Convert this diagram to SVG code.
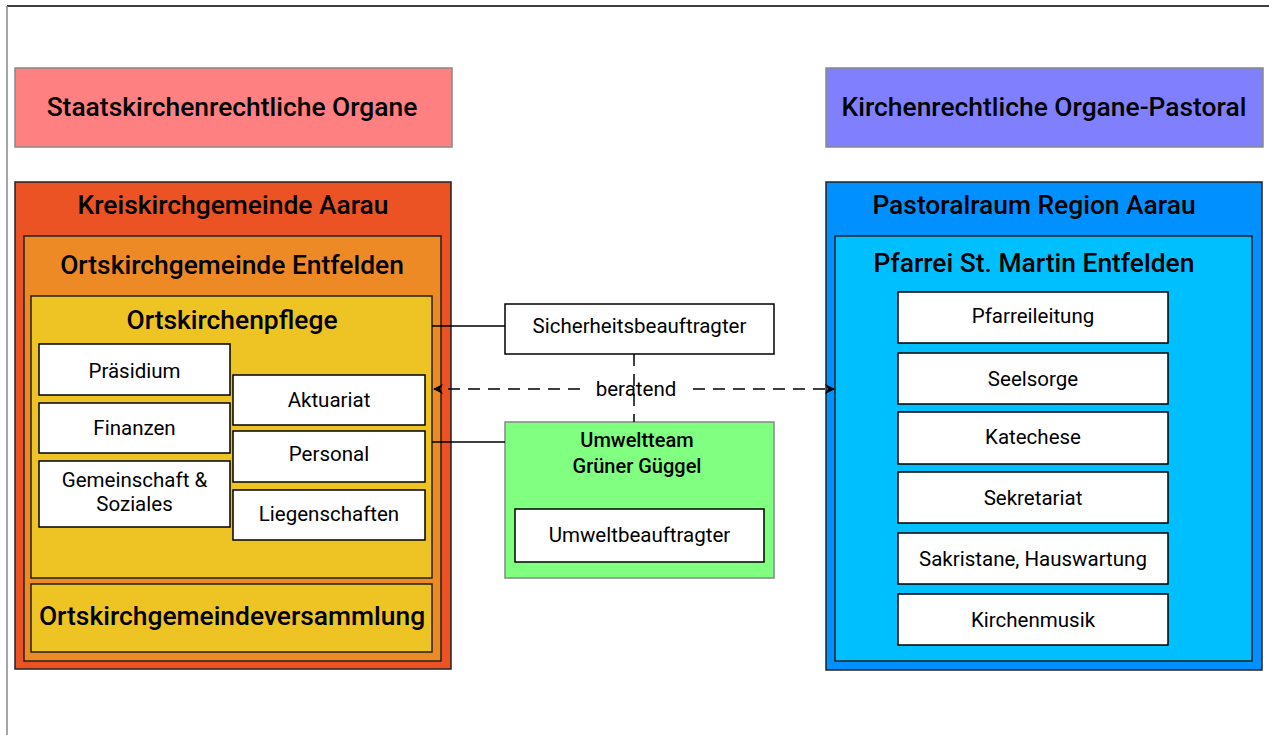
<svg xmlns="http://www.w3.org/2000/svg" width="1269" height="735" viewBox="0 0 1269 735">
<style>
  text { font-family: Roboto, "Liberation Sans", sans-serif; fill: #000; text-anchor: middle; }
  .t { font-size: 26.4px; font-weight: 500; }
  .s { font-size: 20.5px; }
  .b { font-size: 20px; font-weight: 500; }
  .w { fill: #fff; stroke: #000; stroke-width: 1.5; }
  .dk { stroke: #222; stroke-width: 1.5; }
  .con { fill: none; stroke: #000; stroke-width: 1.5; }
  .dash { fill: none; stroke: #000; stroke-width: 1.5; stroke-dasharray: 12 8; }
</style>
<defs>
  <marker id="arr" viewBox="0 0 10 10" refX="9" refY="5" markerWidth="10" markerHeight="10" markerUnits="userSpaceOnUse" orient="auto-start-reverse">
    <path d="M0,0 L10,5 L0,10 L3,5 Z" fill="#000"/>
  </marker>
</defs>
<rect width="1269" height="735" fill="#fff"/>
<g id="frame">
  <line x1="7" y1="6" x2="1269" y2="6" stroke="#000" stroke-width="1.5"/>
  <line x1="7" y1="6" x2="7" y2="735" stroke="#888" stroke-width="1.5"/>
</g>

<g id="staat">
  <rect x="15" y="68" width="437" height="79" fill="#FF8080" stroke="#888" stroke-width="1.5"/>
  <text class="t" x="232" y="116">Staatskirchenrechtliche Organe</text>
</g>
<g id="kirchen">
  <rect x="826" y="68" width="437" height="79" fill="#8080FF" stroke="#888" stroke-width="1.5"/>
  <text class="t" x="1044" y="116">Kirchenrechtliche Organe-Pastoral</text>
</g>

<g id="kreis">
  <rect x="15" y="182" width="436" height="487" fill="#EB5324" class="dk"/>
  <text class="t" x="233" y="214">Kreiskirchgemeinde Aarau</text>
</g>
<g id="orts">
  <rect x="24" y="236" width="417" height="425" fill="#ED8A25" class="dk"/>
  <text class="t" x="232" y="274">Ortskirchgemeinde Entfelden</text>
</g>
<g id="pflege">
  <rect x="31" y="296" width="401" height="282" fill="#EEC425" class="dk"/>
  <text class="t" x="232" y="329">Ortskirchenpflege</text>
</g>
<g id="praesidium">
  <rect x="39" y="344" width="191" height="51" class="w"/>
  <text class="s" x="134.5" y="378">Präsidium</text>
</g>
<g id="finanzen">
  <rect x="39" y="403" width="191" height="50" class="w"/>
  <text class="s" x="134.5" y="435">Finanzen</text>
</g>
<g id="gemeinschaft">
  <rect x="39" y="461" width="191" height="66" class="w"/>
  <text class="s" x="134.5" y="487">Gemeinschaft &amp;</text>
  <text class="s" x="134.5" y="511">Soziales</text>
</g>
<g id="aktuariat">
  <rect x="233" y="375" width="192" height="50" class="w"/>
  <text class="s" x="329" y="407">Aktuariat</text>
</g>
<g id="personal">
  <rect x="233" y="431" width="192" height="51" class="w"/>
  <text class="s" x="329" y="461">Personal</text>
</g>
<g id="liegenschaften">
  <rect x="233" y="490" width="192" height="50" class="w"/>
  <text class="s" x="329" y="521">Liegenschaften</text>
</g>
<g id="versammlung">
  <rect x="31" y="584" width="401" height="68" fill="#EEC425" class="dk"/>
  <text class="t" x="232" y="625">Ortskirchgemeindeversammlung</text>
</g>

<g id="pastoralraum">
  <rect x="826" y="182" width="436" height="488" fill="#0090FF" class="dk"/>
  <text class="t" x="1034" y="214">Pastoralraum Region Aarau</text>
</g>
<g id="pfarrei">
  <rect x="835" y="236" width="417" height="425" fill="#00BFFF" class="dk"/>
  <text class="t" x="1034" y="272">Pfarrei St. Martin Entfelden</text>
</g>
<g id="pfarreileitung">
  <rect x="898" y="292" width="270" height="51" class="w"/>
  <text class="s" x="1033" y="323">Pfarreileitung</text>
</g>
<g id="seelsorge">
  <rect x="898" y="353" width="270" height="51" class="w"/>
  <text class="s" x="1033" y="386">Seelsorge</text>
</g>
<g id="katechese">
  <rect x="898" y="412" width="270" height="52" class="w"/>
  <text class="s" x="1033" y="444">Katechese</text>
</g>
<g id="sekretariat">
  <rect x="898" y="472" width="270" height="51" class="w"/>
  <text class="s" x="1033" y="505">Sekretariat</text>
</g>
<g id="sakristane">
  <rect x="898" y="533" width="270" height="51" class="w"/>
  <text class="s" x="1033" y="566">Sakristane, Hauswartung</text>
</g>
<g id="kirchenmusik">
  <rect x="898" y="594" width="270" height="51" class="w"/>
  <text class="s" x="1033" y="627">Kirchenmusik</text>
</g>

<g id="sicherheit">
  <rect x="505" y="304" width="269" height="50" class="w"/>
  <text class="s" x="639.5" y="333">Sicherheitsbeauftragter</text>
</g>
<g id="umweltteam">
  <rect x="505" y="422" width="269" height="156" fill="#80FF80" stroke="#888" stroke-width="1.5"/>
  <text class="b" x="637" y="447">Umweltteam</text>
  <text class="b" x="637" y="473">Grüner Güggel</text>
</g>
<g id="umweltbeauftragter">
  <rect x="515" y="509" width="249" height="53" class="w"/>
  <text class="s" x="639.5" y="542">Umweltbeauftragter</text>
</g>

<g id="connectors">
  <line class="con" x1="432" y1="326" x2="505" y2="326"/>
  <line class="con" x1="432" y1="442" x2="505" y2="442"/>
  <path class="dash" d="M580,389 L434,389" marker-end="url(#arr)"/>
  <path class="dash" d="M693,389 L834,389" marker-end="url(#arr)"/>
  <line class="dash" x1="634" y1="354" x2="634" y2="422" stroke-dasharray="10 8"/>
  <text class="s" x="636" y="396">beratend</text>
</g>
</svg>
